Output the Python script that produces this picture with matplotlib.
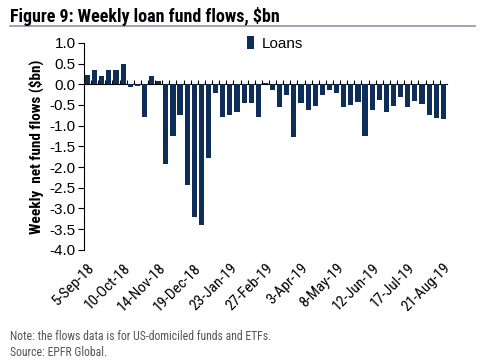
import matplotlib
matplotlib.use("Agg")
from matplotlib import pyplot as plt
from matplotlib import font_manager
from matplotlib.lines import Line2D
import numpy as np

# weekly net flows into loan funds, $bn (5-Sep-18 .. 21-Aug-19)
flows = [0.22, 0.35, 0.19, 0.35, 0.35, 0.48, -0.06, -0.04, -0.78, 0.19,
         0.09, -1.92, -1.24, -0.74, -2.43, -3.21, -3.41, -1.78, -0.21, -0.78,
         -0.74, -0.67, -0.46, -0.46, -0.78, 0.03, -0.13, -0.55, -0.26, -1.27,
         -0.46, -0.62, -0.52, -0.26, -0.14, -0.20, -0.55, -0.50, -0.42, -1.26,
         -0.62, -0.39, -0.68, -0.53, -0.30, -0.55, -0.41, -0.48, -0.74, -0.82,
         -0.84]
tick_labels = ["5-Sep-18", "10-Oct-18", "14-Nov-18", "19-Dec-18", "23-Jan-19",
               "27-Feb-19", "3-Apr-19", "8-May-19", "12-Jun-19", "17-Jul-19",
               "21-Aug-19"]
yticks = np.arange(-4.0, 1.01, 0.5)

# narrow font if there is one, otherwise squeeze the sizes a bit
names = set(f.name for f in font_manager.fontManager.ttflist)
narrow = None
for cand in ["Liberation Sans Narrow", "DejaVu Sans Condensed", "Roboto Condensed",
             "Open Sans Condensed"]:
    if cand in names:
        narrow = cand
        break
if narrow is None:
    narrow = "Liberation Sans"
    shrink = 0.85
else:
    shrink = 1.0
plt.rcParams["font.family"] = ["Liberation Sans", "DejaVu Sans"]

navy = "#0f2d59"
x = np.arange(len(flows))

fig = plt.figure(figsize=(4.8, 3.6), dpi=100)
ax = fig.add_axes([0.175, 0.306, 0.756, 0.575])

ax.bar(x, flows, width=0.72, color=navy, label="Loans", zorder=2)
ax.set_xlim(-0.5, len(flows) - 0.5)
ax.set_ylim(-4.0, 1.0)

ax.set_yticks(yticks)
ax.set_yticklabels(["%.1f" % v for v in yticks], fontsize=11)
ax.tick_params(axis="y", direction="out", length=4, width=0.8, pad=2)

ax.set_xticks(x[::5])
ax.set_xticklabels(tick_labels, rotation=45, ha="right", rotation_mode="anchor",
                   fontsize=11 * shrink, family=narrow)
ax.tick_params(axis="x", length=0, pad=8)

for s in ["top", "right", "bottom"]:
    ax.spines[s].set_visible(False)
ax.spines["left"].set_linewidth(0.8)

# zero line with small ticks between the weeks
zero = ax.secondary_xaxis(0.8)
zero.set_xticks(x[:-1] + 0.5)
zero.set_xticklabels([])
zero.tick_params(axis="x", direction="out", length=3, width=0.8)
zero.spines["bottom"].set_linewidth(1.0)
zero.spines["bottom"].set_color("#333333")

ax.set_ylabel("Weekly  net fund flows ($bn)", fontsize=11 * shrink,
              fontweight="bold", family=narrow, labelpad=4)

ax.legend(loc="upper left", bbox_to_anchor=(0.41, 1.10), frameon=False,
          prop={"size": 11}, handlelength=0.5, handleheight=0.9,
          handletextpad=0.5)

fig.text(0.02, 0.955, "Figure 9: Weekly loan fund flows, $bn",
         fontsize=13 * shrink, fontweight="bold", family=narrow,
         ha="left", va="center")
fig.add_artist(Line2D([0.02, 0.99], [0.928, 0.928], color="#8a96a3", lw=1.2))

fig.text(0.02, 0.065, "Note: the flows data is for US-domiciled funds and ETFs.",
         fontsize=8.5 * shrink, color="#555555", family=narrow,
         ha="left", va="center")
fig.text(0.02, 0.02, "Source: EPFR Global.", fontsize=8.5 * shrink,
         color="#555555", family=narrow, ha="left", va="center")

fig.savefig("out.png", dpi=100)
